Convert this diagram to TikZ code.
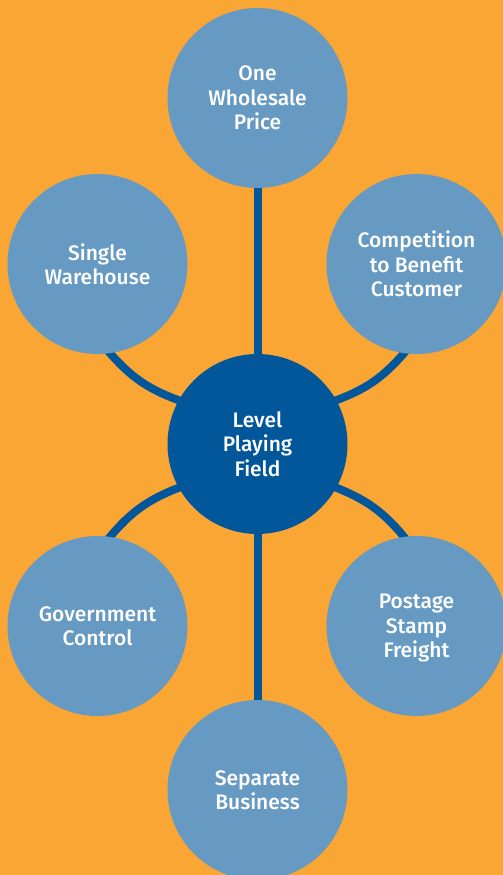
\documentclass[tikz,border=0pt]{standalone}
\usepackage{fontspec}
\setmainfont{Fira Sans}[UprightFont={* Medium}]
\usetikzlibrary{backgrounds}
\definecolor{bgorange}{RGB}{249,166,52}
\definecolor{topicblue}{RGB}{102,154,195}
\definecolor{hubblue}{RGB}{2,86,154}
\tikzset{
  topic/.style={circle,fill=topicblue,minimum size=180pt,inner sep=0pt,
    text=white,align=center,text depth=-6pt,font=\fontsize{21}{24.5}\selectfont},
  hub/.style={topic,fill=hubblue},
  link/.style={hubblue,line width=8pt},
  curvelink/.style={link,shorten <=-6pt,shorten >=-6pt},
}
\begin{document}
\begin{tikzpicture}[x=1pt,y=1pt]
\useasboundingbox (0,0) rectangle (503,875);

\node[hub]   (lpf) at (257.5,431) {Level\\Playing\\Field}; %centre
\node[topic] (owp) at (257.5,777) {One\\Wholesale\\Price};
\node[topic] (sw)  at (97.5,611)  {Single\\Warehouse};
\node[topic] (cbc) at (416.5,611) {Competition\\to Benefit\\Customer};
\node[topic] (gc)  at (97.5,249)  {Government\\Control};
\node[topic] (psf) at (416.5,249) {Postage\\Stamp\\Freight};
\node[topic] (sb)  at (257.5,85)  {Separate\\Business};

\begin{scope}[on background layer]
\fill[bgorange] (0,0) rectangle (503,875); %background
\draw[link] (owp) -- (lpf); %vertical
\draw[link] (lpf) -- (sb);
\draw[curvelink] (sw.-82)  to[bend right=15] (lpf.151); %arcs
\draw[curvelink] (cbc.-98) to[bend left=15]  (lpf.29);
\draw[curvelink] (gc.82)   to[bend left=15]  (lpf.-151);
\draw[curvelink] (psf.98)  to[bend right=15] (lpf.-29);
\end{scope}
\end{tikzpicture}
\end{document}
